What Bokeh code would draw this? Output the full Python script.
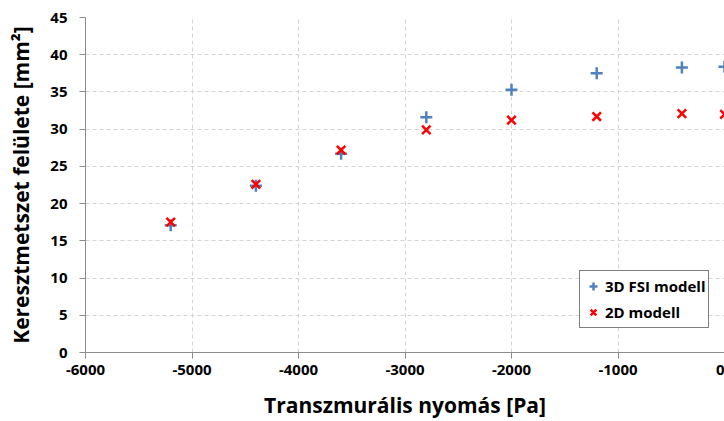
from bokeh.plotting import figure
from bokeh.models import Range1d, FixedTicker, Legend, LegendItem, CustomJSTickFormatter
from bokeh.embed import file_html
from bokeh.resources import INLINE

pressure = [-5200, -4400, -3600, -2800, -2000, -1200, -400, 0]
area_3d = [17.1, 22.4, 26.7, 31.6, 35.3, 37.5, 38.3, 38.4]
area_2d = [17.5, 22.6, 27.2, 29.9, 31.2, 31.7, 32.1, 32.0]
x_ticks = [-6000, -5000, -4000, -3000, -2000, -1000, 0]
y_ticks = [0, 5, 10, 15, 20, 25, 30, 35, 40, 45]

FONT = "Open Sans"

p = figure(width=724, height=421, output_backend="svg", toolbar_location=None,
           x_range=Range1d(-6000, 0), y_range=Range1d(0, 45),
           min_border_left=85, min_border_right=0, min_border_top=17,
           min_border_bottom=69)
p.outline_line_color = None
p.background_fill_color = "white"
p.border_fill_color = "white"

for ax in (p.xaxis[0], p.yaxis[0]):
    ax.axis_line_color = "#8c8c8c"
    ax.major_tick_line_color = "#8c8c8c"
    ax.minor_tick_line_color = None
    ax.major_tick_in = 0
    ax.major_tick_out = 6
    ax.major_label_text_font = FONT
    ax.major_label_text_font_style = "bold"
    ax.major_label_text_font_size = "15px"
    ax.major_label_text_color = "#000000"
    ax.axis_label_text_font = FONT
    ax.axis_label_text_font_style = "bold"
    ax.axis_label_text_font_size = "21px"
    ax.axis_label_text_color = "#000000"
    ax.formatter = CustomJSTickFormatter(code="return String(tick);")

p.xaxis.ticker = FixedTicker(ticks=x_ticks)
p.yaxis.ticker = FixedTicker(ticks=y_ticks)
p.xaxis.axis_label = "Transzmurális nyomás [Pa]"
p.yaxis.axis_label = "Keresztmetszet felülete [mm²]"
p.xaxis.major_label_standoff = 6
p.xaxis.axis_label_standoff = 13
p.yaxis.major_label_standoff = 12
p.yaxis.axis_label_standoff = 12

for g in (p.xgrid[0], p.ygrid[0]):
    g.grid_line_color = "#d4d4d4"
    g.grid_line_dash = "4 3"
    g.grid_line_width = 1

r3 = p.scatter(pressure, area_3d, marker="cross", size=12, line_color="#4f81bd",
               line_width=2.5)
r2 = p.scatter(pressure, area_2d, marker="x", size=12, line_color="#ff0000",
               line_width=2.5)

legend = Legend(items=[LegendItem(label="3D FSI modell", renderers=[r3]),
                       LegendItem(label="2D modell", renderers=[r2])],
                location=(494, 24))
legend.border_line_color = "#000000"
legend.border_line_width = 1
legend.label_text_font = FONT
legend.label_text_font_style = "bold"
legend.label_text_font_size = "15px"
legend.label_text_color = "#000000"
legend.glyph_width = 20
legend.glyph_height = 24
legend.label_standoff = 2
legend.padding = 3
legend.spacing = 2
legend.margin = 0
legend.background_fill_alpha = 1
p.add_layout(legend, "center")

open("out.html", "w").write(file_html(p, INLINE))
